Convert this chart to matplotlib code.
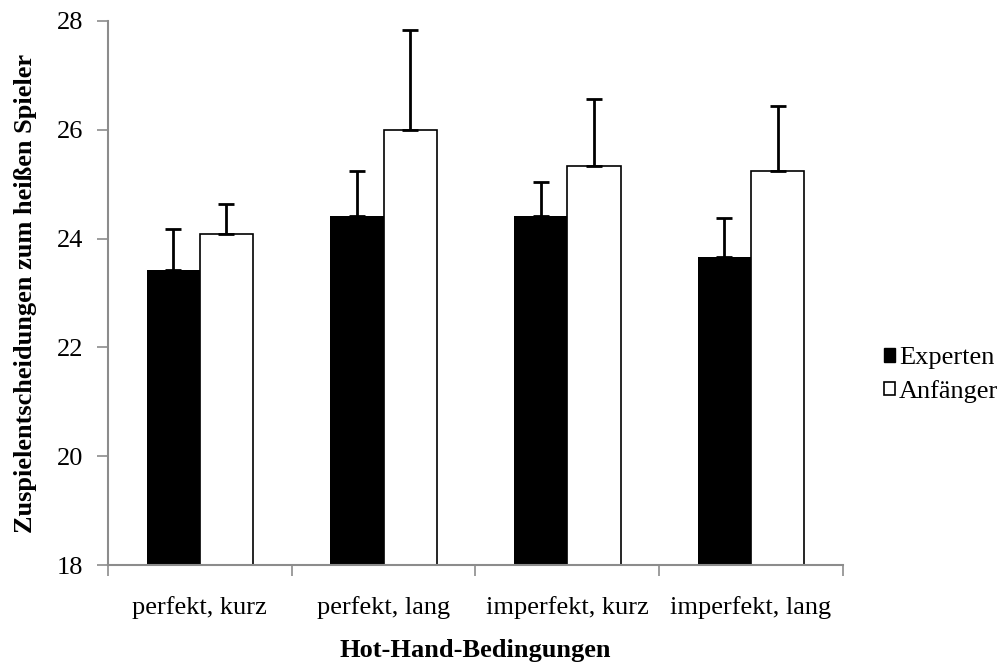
import matplotlib
matplotlib.use('Agg')
import matplotlib.pyplot as plt
from matplotlib.patches import Patch
import numpy as np

# Werte
bedingungen = ['perfekt, kurz', 'perfekt, lang', 'imperfekt, kurz', 'imperfekt, lang']
experten = [23.42, 24.42, 24.42, 23.66]
experten_fehler = [0.76, 0.83, 0.62, 0.71]
anfaenger = [24.08, 26.0, 25.33, 25.25]
anfaenger_fehler = [0.56, 1.84, 1.24, 1.19]

plt.rcParams['font.family'] = ['Liberation Serif', 'DejaVu Serif']
fs = 19

fig = plt.figure(figsize=(10.07, 6.70), dpi=100)
ax = fig.add_axes([0.1072, 0.1567, 0.837 - 0.1072, 0.9687 - 0.1567])

x = np.arange(len(bedingungen))
w = 0.29
err_style = dict(elinewidth=2, capsize=6, capthick=2, ecolor='black')
ax.bar(x - w / 2, experten, w, color='black', edgecolor='black', linewidth=0,
       yerr=[np.zeros(4), experten_fehler], error_kw=err_style, zorder=2)
ax.bar(x + w / 2, anfaenger, w, color='white', edgecolor='black', linewidth=1.2,
       yerr=[np.zeros(4), anfaenger_fehler], error_kw=err_style, zorder=2)

ax.set_xlim(-0.5, 3.5)
ax.set_ylim(18, 28)
ax.set_yticks(np.arange(18, 29, 2))

# Gruppengrenzen als Ticks, Beschriftungen in der Mitte
ax.set_xticks(np.arange(-0.5, 4.0, 1.0))
ax.set_xticklabels([])
ax.set_xticks(x, minor=True)
ax.set_xticklabels(bedingungen, minor=True)
ax.tick_params(axis='x', which='major', length=8, width=1.2, color='#8c8c8c', direction='out')
ax.tick_params(axis='x', which='minor', length=0, pad=22, labelsize=fs)
ax.tick_params(axis='y', length=8, width=1.2, color='#8c8c8c', direction='out', pad=10, labelsize=fs)

for s in ['top', 'right']:
    ax.spines[s].set_visible(False)
for s in ['left', 'bottom']:
    ax.spines[s].set_color('#8c8c8c')
    ax.spines[s].set_linewidth(1.5)

ax.set_xlabel('Hot-Hand-Bedingungen', fontsize=fs, fontweight='bold', labelpad=15)
ax.set_ylabel('Zuspielentscheidungen zum heißen Spieler', fontsize=fs, fontweight='bold', labelpad=14)

handles = [Patch(facecolor='black', edgecolor='black', label='Experten'),
           Patch(facecolor='white', edgecolor='black', linewidth=1.2, label='Anfänger')]
fig.legend(handles=handles, loc='center left', bbox_to_anchor=(0.878, 0.44),
           frameon=False, fontsize=fs, handlelength=0.42, handleheight=0.42,
           handletextpad=0.15, labelspacing=0.4, borderpad=0, borderaxespad=0)

fig.savefig('out.png', dpi=100)
